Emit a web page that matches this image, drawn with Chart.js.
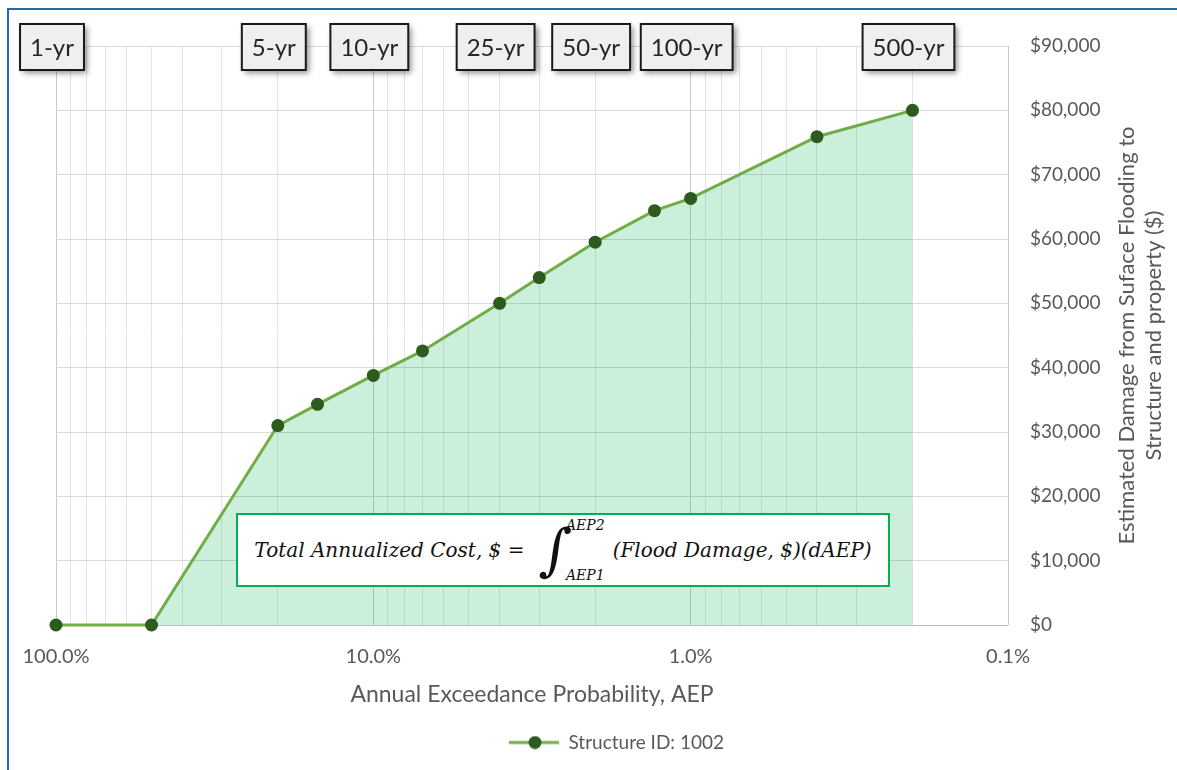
<!DOCTYPE html>
<html lang="en">
  <head>
    <meta charset="utf-8">
    <title>Flood damage vs AEP</title>
    <style>
      body { margin: 0; background: #fff; }
      #wrap { position: relative; width: 1177px; height: 770px; overflow: hidden; }
      #frame { position: absolute; left: 7px; top: 8px; right: 0; bottom: 0;
               border-left: 2px solid #2468b0; border-top: 2px solid #2468b0; pointer-events: none; }
      #eq { position: absolute; left: 236px; top: 513px; width: 654px; height: 74px; box-sizing: border-box;
            border: 2px solid #00b050; background: #fff; display: flex; align-items: center; justify-content: center;
            font: italic 20px "DejaVu Serif", serif; color: #111; white-space: nowrap; }
      #eq .int { display: inline-flex; align-items: center; margin: 0 8px 0 10px; }
      #eq .sign { font: 56px "DejaVu Serif", serif; line-height: 1; transform: skewX(-6deg); }
      #eq .lim { display: inline-flex; flex-direction: column; justify-content: space-between; height: 66px;
                 font: italic 14px "DejaVu Serif", serif; margin-left: -4px; }
    </style>
  </head>
  <body>
    <div id="wrap">
      <canvas id="myChart" width="1177" height="770"></canvas>
      <div id="frame"></div>
      <div id="eq">
        <span>Total Annualized Cost, $ =&nbsp;</span>
        <span class="int"><span class="sign">∫</span><span class="lim"><span>AEP2</span><span>AEP1</span></span></span>
        <span>(Flood Damage, $)(dAEP)</span>
      </div>
    </div>

    <script src="https://cdn.jsdelivr.net/npm/chart.js@4/dist/chart.umd.min.js"></script>
    <script>
      // data
      var aepPercent = [100, 50, 20, 15, 10, 7, 4, 3, 2, 1.3, 1, 0.4, 0.2];
      var damage = [0, 0, 31000, 34300, 38800, 42600, 50000, 54000, 59500, 64400, 66300, 75900, 80000];
      var seriesName = 'Structure ID: 1002';

      var xTickValues = [100, 10, 1, 0.1];
      var xTickLabels = ['100.0%', '10.0%', '1.0%', '0.1%'];

      var rpLabels = ['1-yr', '5-yr', '10-yr', '25-yr', '50-yr', '100-yr', '500-yr'];
      var rpAep = [100, 20, 10, 4, 2, 1, 0.2];

      var yTitleLines = ['Estimated Damage from Suface Flooding to', 'Structure and property ($)'];

      var txtGrey = '#595959';
      var lineGreen = '#70ad47';
      var dotGreen = '#2c5b1e';

      // legend marker: line with a dot
      var legendMark = document.createElement('canvas');
      legendMark.width = 50; legendMark.height = 14;
      (function () {
        var c = legendMark.getContext('2d');
        c.strokeStyle = lineGreen; c.lineWidth = 3;
        c.beginPath(); c.moveTo(0, 7); c.lineTo(50, 7); c.stroke();
        c.fillStyle = dotGreen;
        c.beginPath(); c.arc(26, 7, 6.5, 0, Math.PI * 2); c.fill();
      })();

      var points = [];
      for (var i = 0; i < aepPercent.length; i++) {
        points.push({x: aepPercent[i], y: damage[i]});
      }

      // rotated y title (reads bottom to top) and the return period boxes
      var extras = {
        id: 'extras',
        afterDraw: function (chart) {
          var ctx = chart.ctx, area = chart.chartArea, xs = chart.scales.x;
          ctx.save();
          ctx.font = '22px Lato';
          ctx.fillStyle = txtGrey;
          ctx.textAlign = 'center';
          ctx.textBaseline = 'middle';
          var cy = (area.top + area.bottom) / 2;
          yTitleLines.forEach(function (t, k) {
            ctx.save();
            ctx.translate(area.right + 119 + k * 27, cy);
            ctx.rotate(-Math.PI / 2);
            ctx.fillText(t, 0, 0);
            ctx.restore();
          });

          ctx.font = '24px Lato';
          rpLabels.forEach(function (t, k) {
            var cx = xs.getPixelForValue(rpAep[k]) - 4;
            var w = ctx.measureText(t).width + 20, h = 46, top = 24;
            ctx.save();
            ctx.shadowColor = 'rgba(0,0,0,0.45)';
            ctx.shadowBlur = 6; ctx.shadowOffsetX = 3; ctx.shadowOffsetY = 3;
            ctx.fillStyle = '#efefef';
            ctx.fillRect(cx - w / 2, top, w, h);
            ctx.restore();
            ctx.strokeStyle = '#1a1a1a'; ctx.lineWidth = 2;
            ctx.strokeRect(cx - w / 2, top, w, h);
            ctx.fillStyle = '#262626';
            ctx.fillText(t, cx, top + h / 2 + 1);
          });
          ctx.restore();
        }
      };

      var ctx = document.getElementById('myChart').getContext('2d');

      var config = {
        type: 'line',
        data: {
          datasets: [{
            label: seriesName,
            data: points,
            borderColor: lineGreen,
            borderWidth: 3,
            backgroundColor: 'rgba(0,176,80,0.2)',
            fill: 'origin',
            tension: 0,
            pointRadius: 6.5,
            pointBorderWidth: 0,
            pointBackgroundColor: dotGreen,
            pointStyle: 'circle',
            clip: false
          }]
        },
        options: {
          responsive: false,
          animation: false,
          layout: {padding: {left: 56, top: 46, right: 0, bottom: 8}},
          plugins: {
            tooltip: {enabled: false},
            legend: {
              position: 'bottom',
              labels: {
                usePointStyle: true,
                pointStyle: legendMark,
                pointStyleWidth: 50,
                padding: 10,
                color: txtGrey,
                font: {family: 'Lato', size: 19}
              }
            }
          },
          scales: {
            x: {
              type: 'logarithmic',
              reverse: true,
              min: 0.1,
              max: 100,
              afterBuildTicks: function (scale) {
                var t = [];
                for (var e = -1; e <= 1; e++) {
                  for (var m = 1; m <= 9; m++) t.push({value: +(m * Math.pow(10, e)).toFixed(3)});
                }
                t.push({value: 100});
                scale.ticks = t;
              },
              afterFit: function (scale) { scale.height = 98; },
              border: {display: false},
              grid: {
                drawTicks: false,
                color: function (c) {
                  return xTickValues.indexOf(c.tick.value) >= 0 ? '#c9c9c9' : '#e4e4e4';
                }
              },
              ticks: {
                autoSkip: false,
                maxRotation: 0,
                padding: 20,
                color: txtGrey,
                font: {family: 'Lato', size: 20},
                callback: function (v) {
                  var k = xTickValues.indexOf(v);
                  return k >= 0 ? xTickLabels[k] : '';
                }
              },
              title: {
                display: true,
                text: 'Annual Exceedance Probability, AEP',
                color: txtGrey,
                font: {family: 'Lato', size: 23},
                padding: {top: 0, bottom: 15}
              }
            },
            y: {
              position: 'right',
              min: 0,
              max: 90000,
              afterFit: function (scale) { scale.width = 169; },
              border: {display: false},
              grid: {
                drawTicks: false,
                color: function (c) { return c.tick.value === 0 ? '#bfbfbf' : '#d9d9d9'; }
              },
              ticks: {
                stepSize: 10000,
                padding: 22,
                color: txtGrey,
                font: {family: 'Lato', size: 19},
                callback: function (v) { return '$' + v.toLocaleString('en-US'); }
              }
            }
          }
        },
        plugins: [extras]
      };

      var chart = new Chart(ctx, config);
    </script>
  </body>
</html>
